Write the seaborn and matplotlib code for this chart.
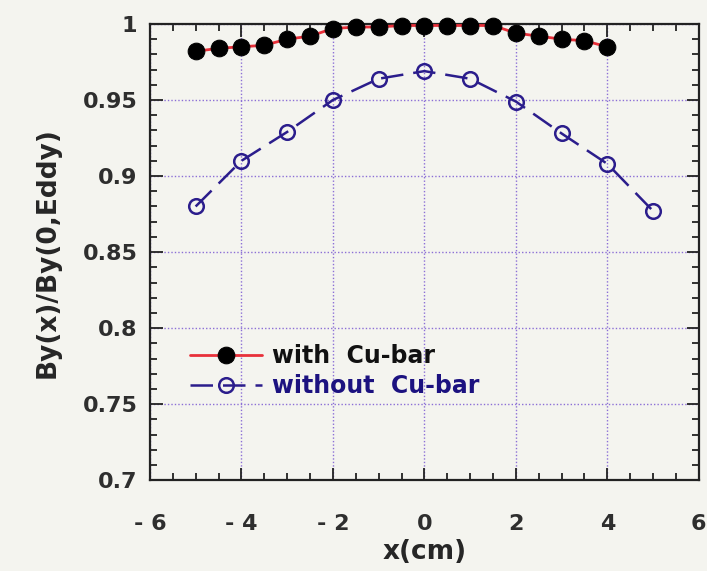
import numpy as np
import pandas as pd
import seaborn as sns
import matplotlib
matplotlib.use("Agg")
import matplotlib.pyplot as plt
from matplotlib.ticker import MultipleLocator, FixedLocator, FixedFormatter

# ---- data ----
x_with = [-5, -4.5, -4, -3.5, -3, -2.5, -2, -1.5, -1, -0.5, 0, 0.5, 1, 1.5, 2, 2.5, 3, 3.5, 4]
y_with = [0.982, 0.984, 0.985, 0.986, 0.990, 0.992, 0.997, 0.998, 0.998, 0.999, 0.999,
          0.999, 0.999, 0.999, 0.994, 0.992, 0.990, 0.989, 0.985]
x_without = [-5, -4, -3, -2, -1, 0, 1, 2, 3, 4, 5]
y_without = [0.880, 0.910, 0.929, 0.950, 0.964, 0.969, 0.964, 0.949, 0.928, 0.908, 0.877]
label_with = "with  Cu-bar"
label_without = "without  Cu-bar"
x_ticks = [-6, -4, -2, 0, 2, 4, 6]
x_ticklabels = ["- 6", "- 4", "- 2", "0", "2", "4", "6"]
y_ticks = [0.7, 0.75, 0.8, 0.85, 0.9, 0.95, 1.0]
y_ticklabels = ["0.7", "0.75", "0.8", "0.85", "0.9", "0.95", "1"]

sns.set_theme(style="ticks")
plt.rcParams["font.family"] = ["DejaVu Sans"]

bg = "#f4f4ef"
fig = plt.figure(figsize=(7.07, 5.71), dpi=100, facecolor=bg)
ax = fig.add_axes([0.212, 0.159, 0.7765, 0.799])
ax.set_facecolor(bg)

navy = "#2b1d8c"
sns.lineplot(x=x_with, y=y_with, ax=ax, color="#e8303a", linewidth=2.0,
             marker="o", markersize=12, markerfacecolor="black",
             markeredgecolor="black", label=label_with, clip_on=False, zorder=4)
sns.lineplot(x=x_without, y=y_without, ax=ax, color=navy, linewidth=1.8,
             linestyle=(0, (9, 4)),
             marker="o", markersize=10.5, markerfacecolor="none",
             markeredgecolor=navy, markeredgewidth=1.8, label=label_without,
             clip_on=False, zorder=3)

ax.set_xlim(-6, 6)
ax.set_ylim(0.7, 1.0)
ax.xaxis.set_major_locator(FixedLocator(x_ticks))
ax.xaxis.set_major_formatter(FixedFormatter(x_ticklabels))
ax.yaxis.set_major_locator(FixedLocator(y_ticks))
ax.yaxis.set_major_formatter(FixedFormatter(y_ticklabels))
ax.xaxis.set_minor_locator(MultipleLocator(0.5))
ax.yaxis.set_minor_locator(MultipleLocator(0.01))

ax.tick_params(which="both", direction="in", top=True, right=True,
               color="#222222", width=1.3)
ax.tick_params(which="major", length=9, labelsize=16, labelcolor="#2e2e2e")
ax.tick_params(axis="x", which="major", pad=24)
ax.tick_params(axis="y", which="major", pad=9)
ax.tick_params(which="minor", length=5)
for lab in ax.get_xticklabels() + ax.get_yticklabels():
    lab.set_fontweight("bold")

ax.grid(True, which="major", linestyle=(0, (1, 1.5)), color="#8c6fd6", linewidth=1.0)
for s in ax.spines.values():
    s.set_linewidth(1.6)
    s.set_color("#222222")

ax.set_xlabel("x(cm)", fontsize=19, fontweight="bold", labelpad=4)
ax.set_ylabel("By(x)/By(0,Eddy)", fontsize=19, fontweight="bold", labelpad=16)

leg = ax.legend(loc="lower left", bbox_to_anchor=(0.073, 0.18), frameon=False,
                borderaxespad=0, borderpad=0,
                handlelength=3.05, handletextpad=0.42, labelspacing=0.25,
                prop={"weight": "bold", "size": 17})
leg.get_texts()[0].set_color("#111111")
leg.get_texts()[1].set_color("#1c1280")

fig.savefig("out.png", dpi=100, facecolor=bg)
